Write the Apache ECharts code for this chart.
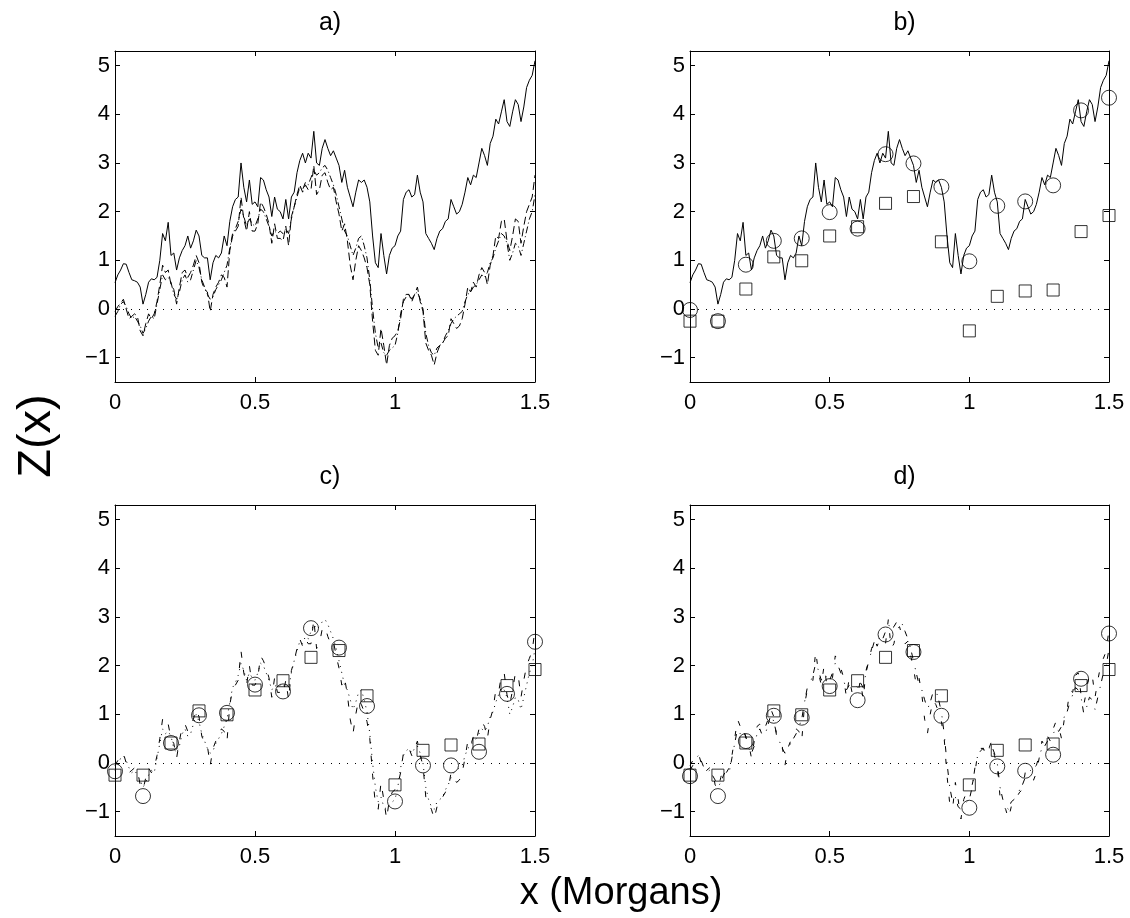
<!DOCTYPE html>
<html>
<head>
<meta charset="utf-8">
<script src="https://cdn.jsdelivr.net/npm/echarts@6/dist/echarts.min.js"></script>
<style>
html,body{margin:0;padding:0;background:#fff;}
#main{width:1130px;height:918px;}
</style>
</head>
<body>
<div id="main"></div>
<script>
// ---------------- DATA ----------------
var panelTitles = ['a)', 'b)', 'c)', 'd)'];
var xTicks = [0, 0.5, 1, 1.5];
var yTicks = [-1, 0, 1, 2, 3, 4, 5];
var curveStep = 0.01;

// solid profile (panels a, b)
var solidCurve = [
0.54,0.7,0.8,0.93,0.92,0.75,0.6,0.58,0.55,0.45,
0.1,0.3,0.55,0.62,0.6,0.65,1.0,1.55,1.4,1.78,
1.1,1.15,0.8,1.05,1.2,1.3,1.5,1.25,1.4,1.62,
1.5,1.1,1.05,1.05,0.6,0.95,1.1,1.05,1.15,1.5,
1.3,1.8,2.1,2.25,2.3,3.0,2.5,2.2,2.65,2.15,
2.2,2.1,2.7,2.65,2.45,2.3,1.9,2.3,2.05,2.0,
1.85,2.25,1.85,2.3,2.4,2.8,3.05,3.2,3.0,3.2,
3.1,3.65,3.0,2.95,3.3,3.48,3.3,3.15,3.25,3.1,
2.95,2.6,2.85,2.5,2.3,2.1,2.4,2.65,2.6,2.65,
2.5,2.2,1.5,0.95,0.85,1.55,1.1,0.72,1.1,1.25,
1.3,1.5,1.6,2.25,2.4,2.45,2.3,2.35,2.75,2.4,
2.2,1.55,1.45,1.35,1.22,1.45,1.6,1.65,1.8,1.85,
2.25,2.1,1.95,2.0,2.15,2.4,2.7,2.55,2.75,2.7,
3.0,3.3,3.15,2.95,3.4,3.55,3.9,3.8,4.05,4.3,
3.85,3.75,4.05,4.3,4.2,3.85,4.15,4.55,4.7,4.8,
5.1
];

// dashed profile
var dashedCurve = [
-0.05,0.05,0.12,0.2,0.0,-0.2,-0.15,-0.1,-0.15,-0.45,
-0.55,-0.3,-0.1,-0.2,-0.1,0.15,0.5,0.9,0.75,0.8,
0.5,0.4,0.1,0.45,0.75,0.8,0.65,0.75,0.9,1.1,
0.95,0.55,0.4,0.35,-0.05,0.3,0.45,0.55,0.7,0.65,
0.45,1.2,1.5,1.6,1.7,2.3,1.85,1.6,2.0,1.6,
1.6,1.75,2.2,2.1,1.95,1.75,1.35,1.75,1.45,1.45,
1.4,1.7,1.3,1.9,2.1,2.35,2.55,2.4,2.55,2.45,
2.45,2.95,2.35,2.45,2.75,2.8,2.6,2.45,2.5,2.2,
1.95,1.6,1.75,1.4,0.9,0.6,1.0,1.3,1.2,1.05,
0.85,0.5,-0.25,-0.85,-0.95,-0.4,-0.75,-1.15,-0.75,-0.6,
-0.55,-0.45,-0.2,0.2,0.3,0.3,0.15,0.3,0.45,0.15,
-0.05,-0.7,-0.85,-0.95,-1.15,-0.9,-0.75,-0.7,-0.6,-0.55,
-0.2,-0.3,-0.4,-0.35,-0.2,0.1,0.45,0.35,0.55,0.45,
0.7,0.85,0.75,0.5,0.9,1.1,1.5,1.45,1.8,1.85,
1.4,1.2,1.5,1.85,1.8,1.35,1.7,2.0,2.15,2.3,
2.75
];

// dash-dot profile
var dashDotCurve = [
-0.15,-0.05,0.1,0.15,0.05,-0.1,-0.2,-0.15,-0.25,-0.35,
-0.5,-0.4,-0.25,-0.15,-0.2,0.1,0.4,0.7,0.6,0.65,
0.55,0.3,0.2,0.35,0.6,0.7,0.55,0.6,0.8,1.0,
0.85,0.6,0.45,0.3,0.2,0.25,0.4,0.5,0.6,0.75,
0.9,1.25,1.55,1.65,1.8,2.05,1.9,1.7,1.85,1.75,
1.7,1.85,2.05,2.0,1.85,1.7,1.5,1.6,1.55,1.6,
1.55,1.65,1.55,1.85,2.1,2.3,2.5,2.45,2.6,2.55,
2.7,2.85,2.75,2.8,2.9,2.95,2.85,2.7,2.55,2.35,
2.1,1.85,1.6,1.5,1.3,1.1,1.25,1.45,1.5,1.3,
1.05,0.6,0.0,-0.5,-0.8,-0.7,-0.9,-0.95,-0.85,-0.8,
-0.75,-0.5,-0.1,0.15,0.25,0.3,0.2,0.3,0.35,0.2,
0.0,-0.5,-0.75,-0.9,-0.95,-0.8,-0.75,-0.7,-0.55,-0.45,
-0.3,-0.2,-0.15,-0.1,-0.05,0.15,0.3,0.35,0.45,0.5,
0.6,0.7,0.65,0.75,0.95,1.05,1.25,1.4,1.55,1.5,
1.35,1.0,1.15,1.35,1.3,1.1,1.35,1.6,1.85,2.0,
2.35
];

// markers at marker positions
var markerX = [0,0.1,0.2,0.3,0.4,0.5,0.6,0.7,0.8,0.9,1.0,1.1,1.2,1.3,1.4,1.5];
var squaresTrue = [-0.25,-0.25,0.41,1.07,0.99,1.5,1.69,2.17,2.31,1.38,-0.45,0.26,0.37,0.39,1.59,1.92];
var circlesB = [-0.02,-0.25,0.91,1.4,1.45,1.99,1.65,3.18,2.99,2.51,0.98,2.12,2.21,2.54,4.08,4.34];
var circlesC = [-0.17,-0.68,0.41,0.98,1.03,1.61,1.47,2.77,2.37,1.17,-0.79,-0.05,-0.05,0.23,1.42,2.49];
var circlesD = [-0.27,-0.68,0.45,0.97,0.93,1.58,1.29,2.64,2.28,0.97,-0.92,-0.07,-0.16,0.17,1.73,2.66];

// ---------------- CHART ----------------
var chart = echarts.init(document.getElementById('main'), null, {renderer: 'canvas'});
var FONT = '"Liberation Sans", Arial, Helvetica, sans-serif';

var grids = [
  {left: 115, top: 51, width: 420, height: 331},
  {left: 690, top: 51, width: 419, height: 331},
  {left: 115, top: 505, width: 420, height: 331},
  {left: 690, top: 505, width: 419, height: 331}
];

function curvePairs(vals) {
  return vals.map(function (v, i) { return [+(i * curveStep).toFixed(2), v]; });
}
function markerPairs(vals) {
  return vals.map(function (v, i) { return [markerX[i], v]; });
}
function fmtNum(v) {
  return String(v).replace('-', '\u2212');
}

var xAxes = [], yAxes = [];
grids.forEach(function (g, i) {
  xAxes.push({
    type: 'value', gridIndex: i, min: 0, max: 1.5, position: 'bottom',
    splitLine: {show: false},
    axisLine: {show: true, onZero: false, lineStyle: {color: '#000', width: 1}},
    axisTick: {show: true, inside: true, length: 5, customValues: xTicks, lineStyle: {color: '#000'}},
    axisLabel: {show: true, customValues: xTicks, formatter: fmtNum, color: '#000',
      fontFamily: FONT, fontSize: 22, margin: 10}
  });
  yAxes.push({
    type: 'value', gridIndex: i, min: -1.5, max: 5.3, position: 'left',
    splitLine: {show: false},
    axisLine: {show: true, onZero: false, lineStyle: {color: '#000', width: 1}},
    axisTick: {show: true, inside: true, length: 5, customValues: yTicks, lineStyle: {color: '#000'}},
    axisLabel: {show: true, customValues: yTicks, formatter: fmtNum, color: '#000',
      fontFamily: FONT, fontSize: 22, margin: 5}
  });
});
grids.forEach(function (g, i) {
  xAxes.push({
    type: 'value', gridIndex: i, min: 0, max: 1.5, position: 'top',
    splitLine: {show: false},
    axisLine: {show: true, onZero: false, lineStyle: {color: '#000', width: 1}},
    axisTick: {show: true, inside: true, length: 5, customValues: xTicks, lineStyle: {color: '#000'}},
    axisLabel: {show: false}
  });
  yAxes.push({
    type: 'value', gridIndex: i, min: -1.5, max: 5.3, position: 'right',
    splitLine: {show: false},
    axisLine: {show: true, onZero: false, lineStyle: {color: '#000', width: 1}},
    axisTick: {show: true, inside: true, length: 5, customValues: yTicks, lineStyle: {color: '#000'}},
    axisLabel: {show: false}
  });
});

var series = [];
function addLine(panel, vals, lineType, z) {
  series.push({
    type: 'line', xAxisIndex: panel, yAxisIndex: panel,
    data: curvePairs(vals), showSymbol: false, symbol: 'none',
    lineStyle: {color: '#000', width: 1, type: lineType},
    z: z || 2, silent: true
  });
}
function addMarkers(panel, vals, sym, size) {
  series.push({
    type: 'scatter', xAxisIndex: panel, yAxisIndex: panel,
    data: markerPairs(vals), symbol: sym, symbolSize: size,
    itemStyle: {color: 'rgba(0,0,0,0)', borderColor: '#000', borderWidth: 1},
    z: 5, silent: true
  });
}
function addZero(panel) {
  series.push({
    type: 'line', xAxisIndex: panel, yAxisIndex: panel,
    data: [], silent: true,
    markLine: {
      silent: true, symbol: 'none', label: {show: false},
      lineStyle: {color: '#000', width: 1, type: [1, 7]},
      data: [{yAxis: 0}]
    }
  });
}

// panel a
addZero(0);
addLine(0, solidCurve, 'solid');
addLine(0, dashedCurve, [8, 4]);
addLine(0, dashDotCurve, [7, 3, 1, 3]);
// panel b
addZero(1);
addLine(1, solidCurve, 'solid');
addMarkers(1, circlesB, 'circle', 15);
addMarkers(1, squaresTrue, 'rect', 12);
// panel c
addZero(2);
addLine(2, dashedCurve, [6, 12]);
addLine(2, dashDotCurve, [1, 5]);
addMarkers(2, circlesC, 'circle', 15);
addMarkers(2, squaresTrue, 'rect', 12);
// panel d
addZero(3);
addLine(3, dashDotCurve, [6, 10, 1, 6]);
addLine(3, dashedCurve, [5, 14]);
addMarkers(3, circlesD, 'circle', 15);
addMarkers(3, squaresTrue, 'rect', 12);

var titles = grids.map(function (g, i) {
  return {
    text: panelTitles[i], left: g.left + g.width / 2, top: g.top - 45, textAlign: 'center',
    textStyle: {fontFamily: FONT, fontSize: 25, fontWeight: 'normal', color: '#000'}
  };
});

chart.setOption({
  animation: false,
  backgroundColor: '#fff',
  title: titles,
  grid: grids,
  xAxis: xAxes,
  yAxis: yAxes,
  series: series,
  graphic: [
    {type: 'text', rotation: Math.PI / 2, position: [37, 436],
      style: {text: 'Z(x)', fontFamily: FONT, fontSize: 47, fill: '#000',
        textAlign: 'center', textVerticalAlign: 'middle'}},
    {type: 'text', position: [621, 894],
      style: {text: 'x (Morgans)', fontFamily: FONT, fontSize: 38, fill: '#000',
        textAlign: 'center', textVerticalAlign: 'middle'}}
  ]
});
</script>
</body>
</html>
